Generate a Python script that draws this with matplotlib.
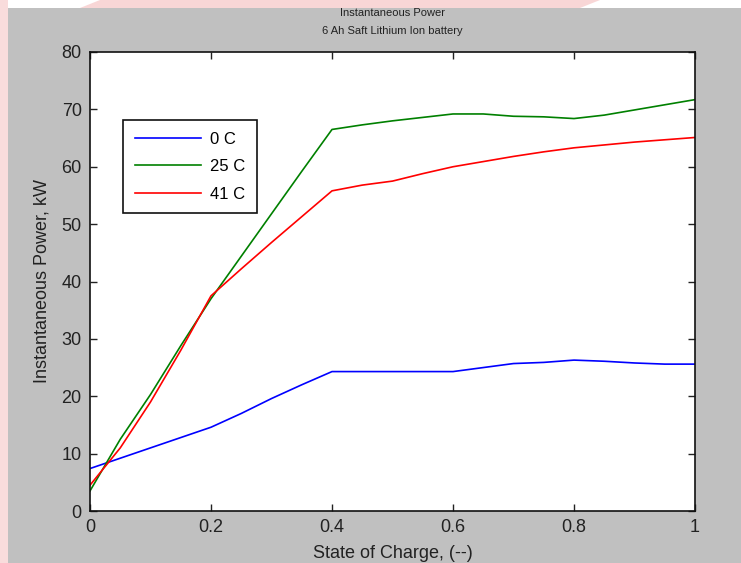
import matplotlib
matplotlib.use("Agg")
import matplotlib.pyplot as plt
from matplotlib.patches import Rectangle, Polygon

plt.rcParams['font.family'] = ['Liberation Sans', 'DejaVu Sans']

soc = [0.0, 0.05, 0.10, 0.15, 0.20, 0.25, 0.30, 0.35, 0.40, 0.45, 0.50,
       0.55, 0.60, 0.65, 0.70, 0.75, 0.80, 0.85, 0.90, 0.95, 1.00]
p_0c = [7.4, 9.2, 11.0, 12.8, 14.6, 17.0, 19.6, 22.0, 24.3, 24.3, 24.3,
        24.3, 24.3, 25.0, 25.7, 25.9, 26.3, 26.1, 25.8, 25.6, 25.6]
p_25c = [3.5, 12.5, 20.3, 28.8, 37.0, 44.4, 51.8, 59.2, 66.5, 67.3, 68.0,
         68.6, 69.2, 69.2, 68.8, 68.7, 68.4, 69.0, 69.9, 70.8, 71.7]
p_41c = [4.5, 11.0, 19.0, 28.0, 37.5, 42.2, 46.8, 51.3, 55.8, 56.8, 57.5,
         58.8, 60.0, 60.9, 61.8, 62.6, 63.3, 63.8, 64.3, 64.7, 65.1]
labels = ['0 C', '25 C', '41 C']
colors = ['#0000ff', '#008000', '#ff0000']
xticks = [0, 0.2, 0.4, 0.6, 0.8, 1]
xticklabels = ['0', '0.2', '0.4', '0.6', '0.8', '1']
yticks = [0, 10, 20, 30, 40, 50, 60, 70, 80]

W, H = 741, 563
fig = plt.figure(figsize=(W / 100, H / 100), dpi=100, facecolor='white')

# background decoration: gray panel, pink strips
fig.patches.append(Rectangle((0, 0), 8 / W, 1, transform=fig.transFigure,
                             facecolor='#f9dcdc', edgecolor='none', zorder=-3))
fig.patches.append(Polygon([(100 / W, 1), (600 / W, 1), (580 / W, 555 / H), (80 / W, 555 / H)],
                           closed=True, transform=fig.transFigure,
                           facecolor='#f8d6d6', edgecolor='none', zorder=-3))
fig.patches.append(Rectangle((8 / W, 0), 1, 555 / H, transform=fig.transFigure,
                             facecolor='#c0c0c0', edgecolor='none', zorder=-2))

ax = fig.add_axes([90 / W, 1 - 511 / H, 605 / W, 459 / H])
ax.set_facecolor('white')

for y, lab, c in zip([p_0c, p_25c, p_41c], labels, colors):
    ax.plot(soc, y, color=c, lw=1.2, label=lab)

ax.set_xlim(0, 1)
ax.set_ylim(0, 80)
ax.set_xticks(xticks)
ax.set_xticklabels(xticklabels)
ax.set_yticks(yticks)
ax.tick_params(direction='in', top=True, right=True, length=5, width=1,
               labelsize=13, colors='#222222', pad=6)
for s in ax.spines.values():
    s.set_linewidth(1.2)
    s.set_color('#111111')

ax.set_xlabel('State of Charge, (--)', fontsize=13, color='#222222', labelpad=6)
ax.set_ylabel('Instantaneous Power, kW', fontsize=13, color='#222222', labelpad=8)
ax.set_title('Instantaneous Power\n6 Ah Saft Lithium Ion battery', fontsize=8,
             color='#222222', pad=13, linespacing=2.0)

leg = ax.legend(loc='upper left', bbox_to_anchor=(0.0545, 0.852), borderaxespad=0,
                fancybox=False, edgecolor='#111111', framealpha=1, fontsize=12,
                handlelength=4.0, handletextpad=0.5, borderpad=0.7, labelspacing=0.75)
leg.get_frame().set_linewidth(1.2)

fig.savefig('out.png', dpi=100, facecolor=fig.get_facecolor())
